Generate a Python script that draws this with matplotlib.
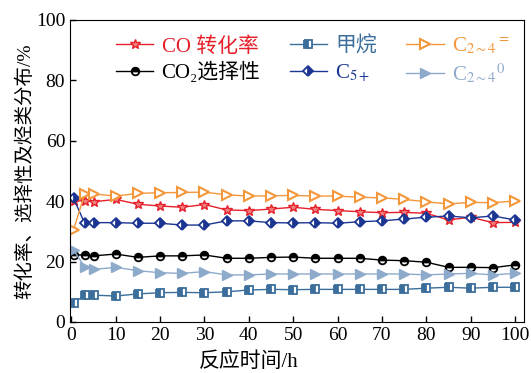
import matplotlib
matplotlib.use("Agg")
import matplotlib.pyplot as plt

# フォント設定（数字は Times 風、漢字は CJK）
plt.rcParams["font.family"] = ["Liberation Serif", "Noto Sans CJK SC"]
plt.rcParams["mathtext.fontset"] = "stix"

# データ
hours = [0.5, 3, 5, 10, 15, 20, 25, 30, 35, 40, 45, 50, 55, 60, 65, 70, 75, 80, 85, 90, 95, 100]
co_conv = [40.0, 40.2, 39.8, 40.6, 39.0, 38.4, 38.0, 38.9, 37.1, 36.9, 37.4, 38.0,
           37.3, 36.9, 36.5, 36.2, 36.3, 36.0, 33.8, 34.7, 32.9, 33.0]
co2_sel = [22.2, 22.2, 21.9, 22.5, 21.4, 21.9, 21.9, 22.2, 21.1, 21.1, 21.4, 21.5,
           21.1, 21.1, 21.1, 20.5, 20.3, 19.8, 18.1, 18.1, 18.0, 18.9]
ch4 = [6.2, 8.9, 8.9, 8.6, 9.3, 9.7, 9.8, 9.7, 10.0, 10.6, 10.8, 10.7,
       10.8, 10.8, 10.8, 10.8, 10.8, 11.2, 11.5, 11.2, 11.5, 11.5]
c5plus = [41.0, 32.7, 32.9, 32.9, 32.7, 32.7, 32.1, 32.1, 33.5, 33.5, 32.9, 32.8,
          32.9, 32.7, 33.2, 33.5, 34.1, 34.7, 35.1, 34.5, 35.1, 33.8]
c24_ene = [30.5, 42.4, 42.4, 41.7, 42.6, 42.8, 42.9, 43.0, 42.1, 41.7, 41.8, 41.9,
           41.7, 41.7, 41.3, 41.1, 40.6, 39.8, 39.1, 39.6, 39.5, 40.1]
c24_ane = [23.8, 18.3, 17.4, 18.1, 17.0, 16.3, 16.1, 16.7, 15.6, 15.6, 15.9, 15.9,
           15.9, 15.9, 15.9, 15.9, 15.9, 15.6, 15.9, 16.1, 15.6, 16.1]

c_red = "#e5202a"
c_ch4 = "#3b6e9b"
c_org = "#f3973a"
c_c5 = "#1b3592"
c_lb = "#8eaacb"

fig = plt.figure(figsize=(5.31, 3.73), dpi=100)
ax = fig.add_axes([70 / 531, 1 - 322 / 373, 454 / 531, 302 / 373])

ms = 5.5
lw = 1.0
l1, = ax.plot(hours, co_conv, color=c_red, lw=lw, marker="*", ms=ms + 2,
              mfc="#f07f7f", mec=c_red, mew=1.0, label="CO 转化率")
l2, = ax.plot(hours, co2_sel, color="black", lw=lw, marker="o", ms=ms,
              fillstyle="top", mfc="black", mfcalt="white", mec="black", mew=1.3,
              label="CO₂选择性")
l3, = ax.plot(hours, ch4, color=c_ch4, lw=lw, marker="s", ms=ms - 0.3,
              fillstyle="left", mfc=c_ch4, mfcalt="white", mec=c_ch4, mew=1.3,
              label="甲烷")
l4, = ax.plot(hours, c5plus, color=c_c5, lw=lw, marker="D", ms=ms,
              fillstyle="right", mfc=c_c5, mfcalt="white", mec=c_c5, mew=1.3,
              label="C$_{5+}$")
l5, = ax.plot(hours, c24_ene, color=c_org, lw=lw, marker=">", ms=ms + 1.5,
              mfc="white", mec=c_org, mew=1.5, label="C$_{2\\sim4}$$^{=}$")
l6, = ax.plot(hours, c24_ane, color=c_lb, lw=lw, marker=">", ms=ms + 1.5,
              mfc=c_lb, mec=c_lb, mew=1.0, label="C$_{2\\sim4}$$^{0}$")

ax.set_xlim(-0.3, 102)
ax.set_ylim(0, 100)
ax.set_xticks(range(0, 101, 10))
ax.set_yticks(range(0, 101, 20))
ax.tick_params(direction="in", labelsize=14, length=4, width=1)
ax.set_xlabel("反应时间/h", fontsize=15, labelpad=0)
ax.xaxis.set_label_coords(0.394, -0.1)
ax.set_ylabel("转化率、选择性及烃类分布/%", fontsize=14, labelpad=1)

leg = ax.legend(handles=[l1, l2, l3, l4, l5, l6], ncol=3, frameon=False,
                loc="upper center", bbox_to_anchor=(0.535, 1.01), fontsize=15,
                handlelength=1.8, columnspacing=1.4, labelspacing=0.25,
                handletextpad=0.4)
for text, line in zip(leg.get_texts(), [l1, l2, l3, l4, l5, l6]):
    text.set_color(line.get_color())

fig.savefig("out.png", dpi=100)
